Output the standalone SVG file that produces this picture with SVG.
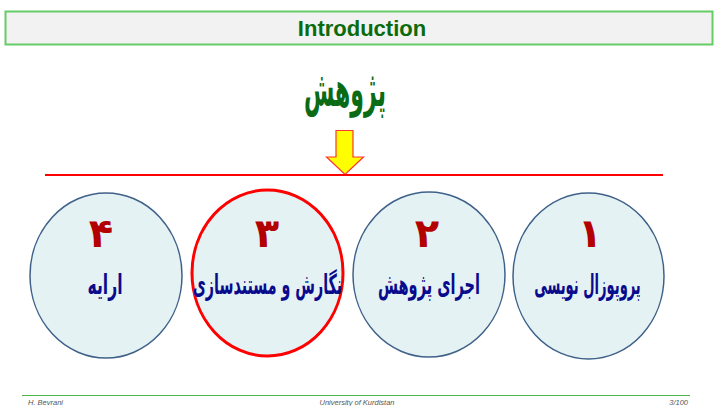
<svg xmlns="http://www.w3.org/2000/svg" width="714" height="406" viewBox="0 0 714 406">
  <style>
    .stage { fill: #e4f2f4; stroke: #3f6189; stroke-width: 1.5; }
    .stage.active { stroke: #ff0000; stroke-width: 3; }
    .num { font-family: "DejaVu Sans", sans-serif; font-weight: bold; font-size: 40px; fill: #b30000; text-anchor: middle; }
    .label { font-family: "DejaVu Sans", sans-serif; font-weight: bold; font-size: 24px; fill: #0a0a8c; text-anchor: middle; }
    .foot { font-family: "Liberation Sans", sans-serif; font-style: italic; font-size: 7.5px; fill: #555; }
  </style>

  <!-- header bar -->
  <g id="header">
    <rect x="5.5" y="11.5" width="707" height="33" fill="#f2f2f2" stroke="#66cc66" stroke-width="2"/>
    <text x="362" y="36" font-family="Liberation Sans, sans-serif" font-weight="bold" font-size="22" fill="#0b6b0b" text-anchor="middle">Introduction</text>
  </g>

  <!-- heading word, narrowed to a tall calligraphic proportion -->
  <g id="topic">
    <text transform="translate(345,106) scale(0.5,1.1)" font-family="DejaVu Sans, sans-serif" font-weight="bold" font-size="44" fill="#0b6b14" text-anchor="middle">پژوهش</text>
  </g>

  <!-- arrow and divider -->
  <g id="connectors">
    <polygon points="336,130.5 353,130.5 353,157 363.5,157 345,174.5 326.5,157 336,157" fill="#ffff00" stroke="#ff3333" stroke-width="1.2" stroke-linejoin="miter"/>
    <line x1="45" y1="175" x2="663" y2="175" stroke="#ff0000" stroke-width="2"/>
  </g>

  <!-- stages (labels narrowed horizontally to fit the circles) -->
  <g id="stage4">
    <ellipse class="stage" cx="106" cy="275.5" rx="76" ry="82.5"/>
    <text class="num" x="101" y="247">۴</text>
    <text class="label" transform="translate(105,294) scale(0.65,1.15)">ارایه</text>
  </g>
  <g id="stage3">
    <ellipse class="stage active" cx="267.5" cy="273" rx="75.5" ry="83"/>
    <text class="num" x="267" y="247">۳</text>
    <text class="label" transform="translate(267.5,294) scale(0.594,1.15)">نگارش و مستندسازی</text>
  </g>
  <g id="stage2">
    <ellipse class="stage" cx="429" cy="274.5" rx="76" ry="82.5"/>
    <text class="num" x="427" y="247">۲</text>
    <text class="label" transform="translate(429,294) scale(0.607,1.15)">اجرای پژوهش</text>
  </g>
  <g id="stage1">
    <ellipse class="stage" cx="588.5" cy="276" rx="75.5" ry="83"/>
    <text class="num" x="590" y="247">۱</text>
    <text class="label" transform="translate(587.5,294) scale(0.544,1.15)">پروپوزال نویسی</text>
  </g>

  <!-- footer -->
  <g id="footer">
    <line x1="22" y1="395.5" x2="690" y2="395.5" stroke="#4fb84f" stroke-width="1.2"/>
    <text class="foot" x="28" y="405">H. Bevrani</text>
    <text class="foot" x="357" y="405" text-anchor="middle">University of Kurdistan</text>
    <text class="foot" x="688" y="405" text-anchor="end">3/100</text>
  </g>
</svg>
